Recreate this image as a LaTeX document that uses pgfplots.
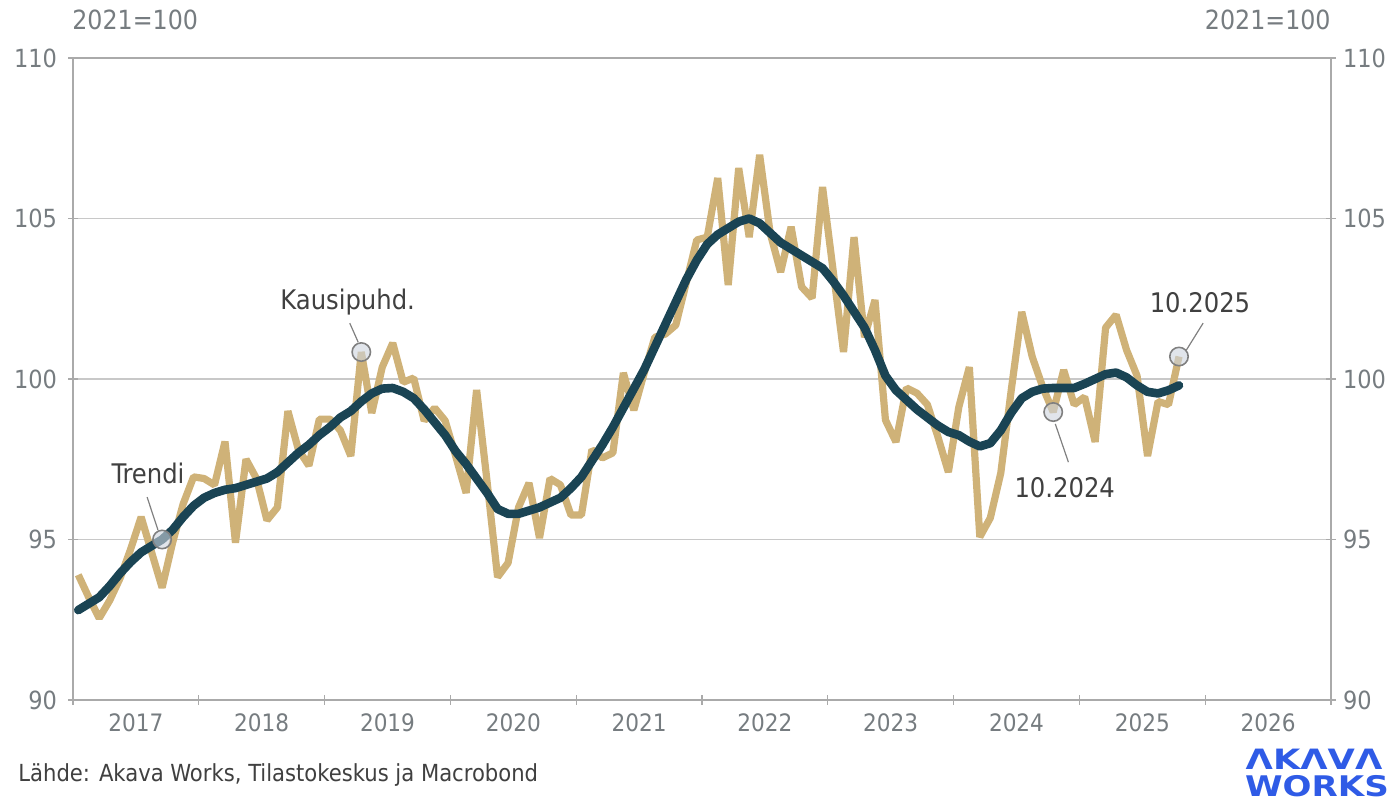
\documentclass[border=0pt]{standalone}
\usepackage{fontspec}
\setmainfont{DejaVu Sans Condensed}
\newfontfamily\logofont{DejaVu Sans Bold}
\usepackage{pgfplots}
\pgfplotsset{compat=1.18}
\usepackage{pgfplotstable}

\definecolor{gold}{RGB}{207,178,120}
\definecolor{trend}{RGB}{26,68,84}
\definecolor{tickgray}{RGB}{118,124,128}
\definecolor{gridgray}{RGB}{200,200,200}
\definecolor{axisgray}{RGB}{170,170,170}
\definecolor{annot}{RGB}{64,64,64}
\definecolor{logoblue}{RGB}{47,91,230}
\definecolor{ringfill}{RGB}{205,212,222}

% kuukausi-indeksi: 0 = 1/2017
\pgfplotstableread{
m v
0 93.9
1 93.2
2 92.55
3 93.1
4 93.8
5 94.7
6 95.7
7 94.6
8 93.5
9 94.9
10 96.1
11 96.95
12 96.9
13 96.7
14 98.05
15 94.9
16 97.5
17 96.9
18 95.6
19 96.0
20 99.0
21 97.8
22 97.3
23 98.75
24 98.75
25 98.4
26 97.6
27 100.84
28 98.94
29 100.37
30 101.12
31 99.9
32 100.03
33 98.7
34 99.1
35 98.7
36 97.6
37 96.45
38 99.66
39 96.8
40 93.83
41 94.27
42 96.0
43 96.76
44 95.05
45 96.9
46 96.7
47 95.76
48 95.76
49 97.8
50 97.54
51 97.7
52 100.19
53 99.03
54 100.2
55 101.3
56 101.4
57 101.68
58 103.0
59 104.33
60 104.42
61 106.26
62 102.93
63 106.57
64 104.42
65 106.98
66 104.55
67 103.33
68 104.74
69 102.87
70 102.52
71 105.98
72 103.4
73 100.84
74 104.42
75 101.3
76 102.46
77 98.72
78 98.04
79 99.72
80 99.56
81 99.2
82 98.2
83 97.1
84 99.13
85 100.37
86 95.08
87 95.67
88 97.07
89 99.66
90 102.09
91 100.69
92 99.75
93 98.97
94 100.28
95 99.2
96 99.44
97 98.04
98 101.6
99 102.0
100 100.9
101 100.1
102 97.6
103 99.3
104 99.2
105 100.7
}\kausi

\pgfplotstableread{
m v
0 92.8
1 93.0
2 93.2
3 93.55
4 93.95
5 94.3
6 94.6
7 94.8
8 95.0
9 95.3
10 95.7
11 96.05
12 96.3
13 96.45
14 96.55
15 96.6
16 96.7
17 96.8
18 96.9
19 97.1
20 97.4
21 97.7
22 97.95
23 98.25
24 98.5
25 98.8
26 99.0
27 99.3
28 99.55
29 99.7
30 99.72
31 99.6
32 99.4
33 99.05
34 98.65
35 98.25
36 97.75
37 97.35
38 96.9
39 96.45
40 95.95
41 95.8
42 95.8
43 95.9
44 96.0
45 96.15
46 96.3
47 96.6
48 96.95
49 97.45
50 97.95
51 98.5
52 99.1
53 99.7
54 100.3
55 101.0
56 101.7
57 102.4
58 103.1
59 103.7
60 104.2
61 104.5
62 104.7
63 104.9
64 105.0
65 104.85
66 104.55
67 104.25
68 104.05
69 103.85
70 103.65
71 103.45
72 103.05
73 102.6
74 102.1
75 101.6
76 100.9
77 100.1
78 99.65
79 99.35
80 99.05
81 98.8
82 98.55
83 98.35
84 98.25
85 98.05
86 97.9
87 98.0
88 98.4
89 98.95
90 99.4
91 99.6
92 99.7
93 99.72
94 99.72
95 99.72
96 99.85
97 100.0
98 100.15
99 100.2
100 100.05
101 99.8
102 99.6
103 99.55
104 99.65
105 99.8
}\trendi

\begin{document}
\begin{tikzpicture}
\useasboundingbox (-36.5pt,-50.5pt) rectangle (659pt,350pt);

\begin{axis}[
    at={(0,0)}, anchor=south west,
    width=629pt, height=321pt, scale only axis,
    xmin=-0.5, xmax=119.5, ymin=90, ymax=110,
    xtick={5.5,17.5,29.5,41.5,53.5,65.5,77.5,89.5,101.5,113.5},
    xticklabels={2017,2018,2019,2020,2021,2022,2023,2024,2025,2026},
    major x tick style={draw=none},
    minor xtick={-0.5,11.5,23.5,35.5,47.5,59.5,71.5,83.5,95.5,107.5,119.5},
    ytick={90,95,100,105,110},
    ymajorgrids, grid style={gridgray, line width=0.6pt},
    tick align=center, major tick length=5pt, minor tick length=5pt,
    xtick pos=bottom, ytick pos=left,
    axis line style={axisgray, line width=0.6pt},
    tick style={axisgray, line width=0.6pt},
    ticklabel style={font=\fontsize{12.5}{14}\selectfont, text=tickgray},
    xticklabel style={font=\fontsize{12}{14}\selectfont, yshift=-1pt},
    yticklabel style={xshift=-2pt},
    /pgf/number format/assume math mode=true,
    clip=false,
]
\addplot[gold, line width=3.6pt, line join=bevel] table[x=m, y=v] {\kausi};
\addplot[trend, line width=4.3pt, line join=round, line cap=round] table[x=m, y=v] {\trendi};

% merkityt pisteet
\addplot[only marks, mark=*, mark size=4.6pt,
  mark options={draw=gray, line width=0.8pt, fill=ringfill, fill opacity=0.6}]
  coordinates {(8,95.0) (27,100.84) (93,98.97) (105,100.7)};

\draw[gray, line width=0.6pt] (axis cs:6.57,96.32) -- (axis cs:7.6,95.3);
\node[annot, font=\fontsize{13.5}{15}\selectfont] at (axis cs:6.66,97.07) {Trendi};
\draw[gray, line width=0.6pt] (axis cs:25.9,101.74) -- (axis cs:26.7,101.15);
\node[annot, font=\fontsize{13.5}{15}\selectfont] at (axis cs:25.7,102.4) {Kausipuhd.};
\draw[gray, line width=0.6pt] (axis cs:93.2,98.6) -- (axis cs:94.45,97.41);
\node[annot, font=\fontsize{13.5}{15}\selectfont] at (axis cs:94.1,96.6) {10.2024};
\draw[gray, line width=0.6pt] (axis cs:105.7,100.9) -- (axis cs:107.3,101.74);
\node[annot, font=\fontsize{13.5}{15}\selectfont] at (axis cs:107.0,102.37) {10.2025};

\node[anchor=west, text=tickgray, font=\fontsize{13.2}{15}\selectfont, inner sep=0pt]
  at ([xshift=-0.5pt,yshift=19pt]rel axis cs:0,1) {2021=100};
\node[anchor=east, text=tickgray, font=\fontsize{13.2}{15}\selectfont, inner sep=0pt]
  at ([yshift=19pt]rel axis cs:1,1) {2021=100};
\node[anchor=west, text=annot, font=\fontsize{11.75}{13}\selectfont, inner sep=0pt]
  at ([xshift=-27.5pt,yshift=-37.5pt]rel axis cs:0,0) {Lähde: Akava Works, Tilastokeskus ja Macrobond};
\end{axis}

\begin{axis}[
    at={(0,0)}, anchor=south west,
    width=629pt, height=321pt, scale only axis,
    xmin=-0.5, xmax=119.5, ymin=90, ymax=110,
    axis x line=none, axis y line*=right,
    ytick={90,95,100,105,110},
    tick align=center, major tick length=5pt,
    axis line style={axisgray, line width=0.6pt, -},
    tick style={axisgray, line width=0.6pt},
    ticklabel style={font=\fontsize{12.5}{14}\selectfont, text=tickgray},
    /pgf/number format/assume math mode=true,
]
\addplot[draw=none] coordinates {(0,100)};
\end{axis}

\node[logoblue, font=\logofont\fontsize{14}{15}\selectfont, xscale=1.26, inner sep=0pt] at (620.5pt,-29.5pt) {ΛKΛVΛ};
\node[logoblue, font=\logofont\fontsize{14.2}{15}\selectfont, xscale=1.2, inner sep=0pt] at (622pt,-43.3pt) {WORKS};
\end{tikzpicture}
\end{document}
